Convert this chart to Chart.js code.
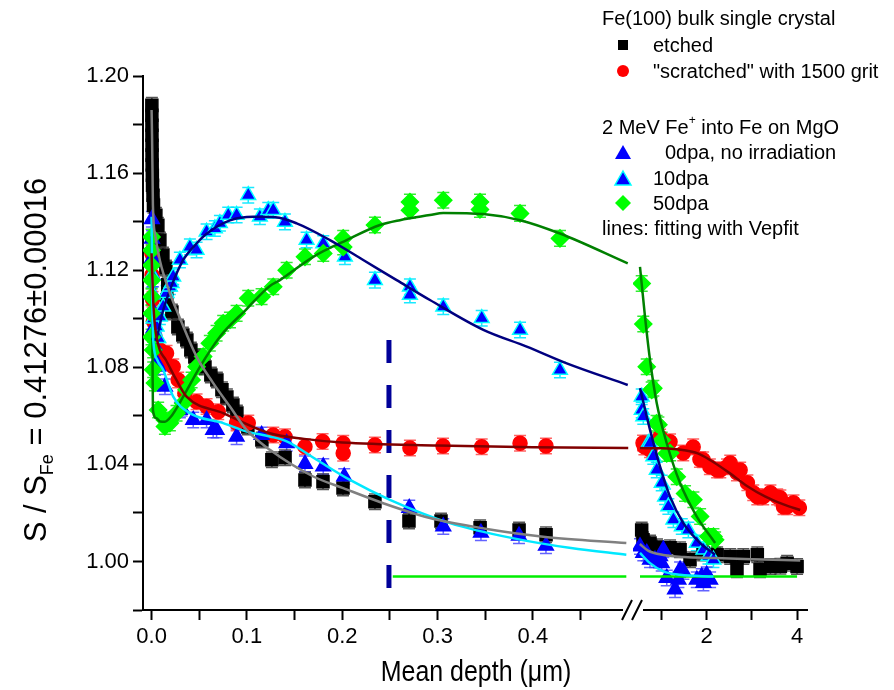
<!DOCTYPE html>
<html>
<head>
<meta charset="utf-8">
<script src="https://cdn.jsdelivr.net/npm/chart.js@4.4.0/dist/chart.umd.min.js"></script>
<style>
  html, body { margin: 0; padding: 0; background: #fff; }
  #wrap { width: 894px; height: 690px; }
</style>
</head>
<body>
<div id="wrap"><canvas id="chart" width="894" height="690"></canvas></div>
<script>
// ---- data (depth in um, S / S_Fe) ----
// left segment: 0 .. 0.5 um, right segment: 0.5 .. 4 um
const etchedX = [0.0003,0.0003,0.0004,0.0004,0.0005,0.0005,0.0006,0.0008,0.001,0.0015,0.002,0.0045,0.0066,0.0087,0.0119,0.015,0.017,0.016,0.0213,0.0276,0.0328,0.037,0.0412,0.0454,0.0507,0.056,0.0622,0.0685,0.0738,0.079,0.0853,0.0895,0.101,0.1157,0.1262,0.14,0.1609,0.1798,0.2008,0.2343,0.27,0.3036,0.3446,0.3855,0.4138];
const etchedY = [1.1879,1.1838,1.1797,1.1756,1.1715,1.1674,1.1633,1.1591,1.155,1.1509,1.1468,1.1426,1.1385,1.1324,1.1262,1.1209,1.114,1.1077,1.1028,1.0966,1.0933,1.0912,1.0871,1.0842,1.0822,1.0801,1.0768,1.0748,1.0707,1.0678,1.0645,1.0612,1.0554,1.05,1.0419,1.0427,1.0336,1.0328,1.0303,1.0246,1.0167,1.0167,1.0139,1.013,1.011];
const etchedRX = [0.56,0.59,0.745,0.9,1.188,1.41,1.63,1.92,2.23,2.52,2.67,2.81,3.12,3.18,3.41,3.63,3.78,4.0];
const etchedRY = [1.013,1.0089,1.0076,1.006,1.0056,1.0048,1.0007,1.0035,1.0028,1.002,0.9966,1.002,1.0028,0.9966,0.9979,0.998,0.9993,0.9979];

const scratchX = [0.0003,0.0005,0.001,0.002,0.004,0.009,0.014,0.0157,0.0227,0.0279,0.0349,0.0472,0.0577,0.0699,0.0892,0.1014,0.1276,0.1399,0.1609,0.1794,0.201,0.201,0.2343,0.271,0.3057,0.3463,0.3865,0.4137];
const scratchY = [1.127,1.118,1.108,1.099,1.092,1.087,1.082,1.0858,1.0802,1.0748,1.0693,1.0658,1.0638,1.0617,1.057,1.057,1.0521,1.0514,1.0473,1.0494,1.0487,1.0446,1.048,1.0467,1.0476,1.0473,1.0487,1.0476];
const scratchRX = [0.59,0.62,0.745,0.967,1.188,1.48,1.7,1.85,1.92,2.07,2.23,2.3,2.45,2.52,2.67,2.74,2.9,3.03,3.12,3.25,3.41,3.56,3.63,3.7,3.78,3.92,4.05];
const scratchRY = [1.0488,1.0472,1.046,1.0513,1.0493,1.0447,1.0472,1.042,1.0419,1.039,1.0377,1.0377,1.039,1.0406,1.0365,1.0377,1.0324,1.0283,1.0266,1.0266,1.0283,1.0266,1.0262,1.0225,1.0225,1.0242,1.0221];

const dpa0X = [0.0003,0.0005,0.0008,0.001,0.0013,0.0016,0.002,0.003,0.005,0.007,0.014,0.0297,0.0315,0.0437,0.0577,0.0646,0.0682,0.0892,0.1154,0.1417,0.1609,0.1801,0.2021,0.2703,0.306,0.3455,0.3854,0.4137];
const dpa0Y = [1.141,1.133,1.125,1.118,1.11,1.103,1.096,1.089,1.082,1.0802,1.072,1.0624,1.0631,1.0583,1.0583,1.0542,1.0542,1.0514,1.0521,1.0487,1.0402,1.0391,1.035,1.022,1.0144,1.0118,1.0106,1.0065];
const dpa0RX = [0.523,0.596,0.672,0.745,0.856,0.967,1.004,1.04,1.115,1.299,1.373,1.41,1.483,1.78,1.89,1.927,2.0,2.075];
const dpa0RY = [1.0062,1.0035,1.0035,1.0007,1.0007,1.0021,0.9993,1.0048,0.9932,0.9884,0.9925,0.9966,0.9959,0.9925,0.9938,0.9911,0.9945,0.9925];

const dpa10X = [0.0005,0.001,0.002,0.003,0.0052,0.007,0.0087,0.0122,0.0157,0.0192,0.021,0.0227,0.0297,0.0402,0.0472,0.0577,0.0664,0.0717,0.0804,0.0892,0.1014,0.1136,0.1224,0.1276,0.1399,0.1626,0.1801,0.2028,0.2343,0.271,0.271,0.306,0.3463,0.3865,0.4284];
const dpa10Y = [1.118,1.11,1.1,1.093,1.0967,1.092,1.1008,1.1049,1.1105,1.1132,1.1146,1.1173,1.1242,1.1296,1.1283,1.1358,1.1372,1.1393,1.1427,1.1427,1.1509,1.142,1.1447,1.1447,1.1399,1.1324,1.131,1.1255,1.1159,1.1132,1.1098,1.1049,1.1002,1.0954,1.0789];
const dpa10RX = [0.561,0.561,0.596,0.707,0.745,0.818,0.894,1.004,1.078,1.151,1.262,1.448,1.594,1.78,1.927,2.038,2.149];
const dpa10RY = [1.0679,1.0624,1.0597,1.0487,1.0487,1.0432,1.0377,1.0323,1.0267,1.0226,1.0172,1.0144,1.013,1.0076,1.0048,1.0021,1.0007];

const dpa50X = [0,0,0,0,0,0,0,0.0017,0.0017,0.0035,0.0069,0.014,0.014,0.0192,0.0262,0.0332,0.0367,0.042,0.0472,0.0541,0.0611,0.0682,0.0751,0.0822,0.0892,0.1014,0.1154,0.1276,0.1417,0.1609,0.1801,0.201,0.201,0.2343,0.271,0.271,0.306,0.3445,0.3445,0.3865,0.4284];
const dpa50Y = [1.1337,1.1282,1.122,1.1159,1.109,1.1022,1.0925,1.0871,1.079,1.0735,1.0624,1.0583,1.0556,1.057,1.0611,1.0652,1.0707,1.0748,1.0802,1.0844,1.0899,1.094,1.0981,1.0995,1.1022,1.1084,1.1091,1.1132,1.12,1.1255,1.1269,1.1331,1.1296,1.1386,1.1481,1.1447,1.1488,1.1481,1.145,1.1434,1.1331];
const dpa50RX = [0.561,0.596,0.672,0.782,0.818,0.89,0.93,1.004,1.115,1.19,1.337,1.52,1.705,1.854,2.038,2.149,2.186];
const dpa50RY = [1.1145,1.0978,1.0802,1.0707,1.0714,1.0569,1.0563,1.05,1.0445,1.0447,1.0349,1.028,1.0254,1.0185,1.0103,1.0103,1.0089];

// Vepfit fitting lines
const fitEtchedX = [0,0.0005,0.001,0.0014,0.004,0.0087,0.0192,0.03,0.0472,0.0638,0.0822,0.0997,0.1241,0.1696,0.201,0.243,0.292,0.35,0.413,0.498];
const fitEtchedY = [1.186,1.175,1.16,1.1468,1.134,1.124,1.1106,1.1,1.0844,1.074,1.0638,1.0542,1.046,1.035,1.0302,1.024,1.0179,1.0135,1.0101,1.0076];
const fitEtchedRX = [0.52,0.7,1.04,1.5,2.15,3.0,4.07];
const fitEtchedRY = [1.0072,1.0045,1.0027,1.0018,1.0014,1.0009,1.0004];

const fitScratchX = [0,0.002,0.005,0.0087,0.015,0.025,0.0367,0.0751,0.1241,0.16,0.2,0.3,0.4,0.5];
const fitScratchY = [1.127,1.105,1.093,1.0871,1.083,1.0755,1.0679,1.0611,1.0528,1.0505,1.049,1.0478,1.0471,1.0467];
const fitScratchRX = [0.52,1.0,1.5,1.8,2.1,2.5,2.9,3.3,3.7,4.07];
const fitScratchRY = [1.0467,1.0466,1.0458,1.0445,1.0415,1.0365,1.031,1.0267,1.0235,1.0212];

const fit0X = [0,0.0005,0.001,0.002,0.006,0.0122,0.0227,0.0402,0.0751,0.1,0.124,0.1417,0.1731,0.2081,0.25,0.313,0.38,0.44,0.498];
const fit0Y = [1.142,1.12,1.10,1.09,1.083,1.0789,1.0679,1.0611,1.057,1.0535,1.0515,1.0495,1.0419,1.0336,1.0254,1.0158,1.0095,1.0055,1.0028];
const fit0RX = [0.523,0.745,1.04,1.41,2.15];
const fit0RY = [1.0035,0.9993,0.9959,0.9945,0.9938];

const fit10X = [0,0.0036,0.0122,0.0192,0.0332,0.0472,0.0577,0.0822,0.1066,0.13,0.1522,0.1871,0.222,0.2571,0.292,0.348,0.3935,0.4355,0.4995];
const fit10Y = [1.092,1.0913,1.1036,1.1118,1.1242,1.131,1.135,1.1405,1.142,1.1418,1.1393,1.1324,1.1242,1.1159,1.1077,1.0954,1.0885,1.0816,1.0727];
const fit10RX = [0.523,0.745,0.967,1.188,1.483,1.854,2.186];
const fit10RY = [1.0714,1.0542,1.0391,1.0267,1.0158,1.0076,1.0028];

const fit50X = [0,0.0005,0.001,0.0014,0.005,0.009,0.014,0.02,0.0332,0.0507,0.0717,0.0997,0.1241,0.1346,0.1696,0.2046,0.2396,0.2605,0.292,0.306,0.348,0.3865,0.4284,0.4995];
const fit50Y = [1.134,1.11,1.085,1.0624,1.059,1.0577,1.0576,1.0595,1.0679,1.0802,1.0926,1.104,1.1135,1.1159,1.1255,1.1324,1.1386,1.1406,1.1427,1.1436,1.1431,1.1406,1.1351,1.1228];
const fit50RX = [0.523,0.634,0.745,0.894,1.115,1.41,1.78,2.186];
const fit50RY = [1.1214,1.1008,1.083,1.0652,1.0487,1.0323,1.0185,1.0076];

// marker lines: bulk reference level and dashed depth mark
const refLevel = 0.9938;
const refLeftX = [0.253, 0.498];
const refRightX = [0.523, 4.0];
const markDepth = 0.249;
const markRange = [1.0912, 0.9871];

const ERR = 0.0032;

const pts = (xs, ys) => xs.map((x, i) => ({ x, y: ys[i] }));
const SANS = "'Liberation Sans', Arial, sans-serif";

function marks(data, axis, style, radius, fill, stroke, errColor, order) {
    return {
        data, xAxisID: axis, pointStyle: style, pointRadius: radius, pointHoverRadius: radius,
        backgroundColor: fill, borderColor: stroke, borderWidth: 1.5, showLine: false,
        errColor, order
    };
}
function fit(data, axis, color, width = 2.5, dash = []) {
    return {
        data, xAxisID: axis, showLine: true, pointRadius: 0, borderColor: color, borderWidth: width,
        borderDash: dash, cubicInterpolationMode: 'monotone', fill: false, order: 0
    };
}

const datasets = [
    fit(pts(fitEtchedX, fitEtchedY), 'x', '#808080'),
    fit(pts(fitEtchedRX, fitEtchedRY), 'x2', '#808080'),
    fit(pts(fitScratchX, fitScratchY), 'x', '#800000'),
    fit(pts(fitScratchRX, fitScratchRY), 'x2', '#800000'),
    fit(pts(fit0X, fit0Y), 'x', '#00e8ff'),
    fit(pts(fit0RX, fit0RY), 'x2', '#00e8ff'),
    fit(pts(fit10X, fit10Y), 'x', '#000080'),
    fit(pts(fit10RX, fit10RY), 'x2', '#000080'),
    fit(pts(fit50X, fit50Y), 'x', '#008000'),
    fit(pts(fit50RX, fit50RY), 'x2', '#008000'),
    fit(refLeftX.map(x => ({ x, y: refLevel })), 'x', '#00ee00'),
    fit(refRightX.map(x => ({ x, y: refLevel })), 'x2', '#00ee00'),
    Object.assign(fit(markRange.map(y => ({ x: markDepth, y })), 'x', '#000099', 5, [23, 22]), { cubicInterpolationMode: 'default', tension: 0 }),
    marks(pts(dpa50X, dpa50Y), 'x', 'rectRot', 8.5, '#00ff00', '#00ff00', 'rgba(0,230,0,0.8)', 1),
    marks(pts(dpa50RX, dpa50RY), 'x2', 'rectRot', 8.5, '#00ff00', '#00ff00', 'rgba(0,230,0,0.8)', 1),
    marks(pts(dpa10X, dpa10Y), 'x', 'triangle', 8.5, '#0000ff', '#00ffff', 'rgba(0,230,255,0.9)', 2),
    marks(pts(dpa10RX, dpa10RY), 'x2', 'triangle', 8.5, '#0000ff', '#00ffff', 'rgba(0,230,255,0.9)', 2),
    marks(pts(dpa0X, dpa0Y), 'x', 'triangle', 8.5, '#0000ff', '#0000ff', 'rgba(60,60,255,0.8)', 3),
    marks(pts(dpa0RX, dpa0RY), 'x2', 'triangle', 8.5, '#0000ff', '#0000ff', 'rgba(60,60,255,0.8)', 3),
    marks(pts(scratchX, scratchY), 'x', 'circle', 7, '#ff0000', '#ff0000', 'rgba(255,60,60,0.8)', 4),
    marks(pts(scratchRX, scratchRY), 'x2', 'circle', 7, '#ff0000', '#ff0000', 'rgba(255,60,60,0.8)', 4),
    marks(pts(etchedX, etchedY), 'x', 'rect', 8.5, '#000000', '#000000', 'rgba(40,40,40,0.8)', 5),
    marks(pts(etchedRX, etchedRY), 'x2', 'rect', 8.5, '#000000', '#000000', 'rgba(40,40,40,0.8)', 5),
];

// small vertical error bars under every marker
const errorBars = {
    id: 'errorBars',
    beforeDatasetsDraw(chart) {
        const ctx = chart.ctx, y = chart.scales.y;
        ctx.save();
        ctx.lineWidth = 1.5;
        chart.data.datasets.forEach((ds, i) => {
            if (!ds.errColor) return;
            const meta = chart.getDatasetMeta(i);
            ctx.strokeStyle = ds.errColor;
            meta.data.forEach((el, j) => {
                const v = ds.data[j].y;
                const top = y.getPixelForValue(v + ERR), bot = y.getPixelForValue(v - ERR);
                ctx.beginPath();
                ctx.moveTo(el.x, top); ctx.lineTo(el.x, bot);
                ctx.moveTo(el.x - 6, top); ctx.lineTo(el.x + 6, top);
                ctx.moveTo(el.x - 6, bot); ctx.lineTo(el.x + 6, bot);
                ctx.stroke();
            });
        });
        ctx.restore();
    }
};

function legendMark(ctx, kind, x, y) {
    ctx.save();
    ctx.beginPath();
    if (kind === 'square') {
        ctx.fillStyle = '#000'; ctx.fillRect(x - 5, y - 5, 10, 10);
    } else if (kind === 'circle') {
        ctx.fillStyle = '#ff0000'; ctx.arc(x, y, 6, 0, Math.PI * 2); ctx.fill();
    } else if (kind === 'diamond') {
        ctx.fillStyle = '#00ff00';
        ctx.moveTo(x, y - 8); ctx.lineTo(x + 8, y); ctx.lineTo(x, y + 8); ctx.lineTo(x - 8, y); ctx.closePath(); ctx.fill();
    } else {
        ctx.fillStyle = '#0000ff';
        ctx.moveTo(x, y - 8); ctx.lineTo(x + 8, y + 6); ctx.lineTo(x - 8, y + 6); ctx.closePath(); ctx.fill();
        if (kind === 'tri2') { ctx.strokeStyle = '#00ffff'; ctx.lineWidth = 1.5; ctx.stroke(); }
    }
    ctx.restore();
}

const decorations = {
    id: 'decorations',
    afterDraw(chart) {
        const ctx = chart.ctx;
        const area = chart.chartArea;
        ctx.save();

        // axis break on the x axis
        const bx = 633, by = area.bottom;
        ctx.fillStyle = '#fff';
        ctx.fillRect(bx - 10, by - 4, 20, 8);
        ctx.strokeStyle = '#000';
        ctx.lineWidth = 2;
        ctx.beginPath();
        ctx.moveTo(bx - 11, by + 10); ctx.lineTo(bx - 1, by - 10);
        ctx.moveTo(bx - 1, by + 10); ctx.lineTo(bx + 9, by - 10);
        ctx.stroke();

        // axis titles (condensed like the original)
        ctx.fillStyle = '#000';
        ctx.textBaseline = 'alphabetic';
        ctx.save();
        ctx.translate(476, 681);
        ctx.scale(0.86, 1);
        ctx.font = `29px ${SANS}`;
        ctx.textAlign = 'center';
        ctx.fillText('Mean depth (\u03bcm)', 0, 0);
        ctx.restore();

        ctx.save();
        ctx.translate(46, 360);
        ctx.rotate(-Math.PI / 2);
        ctx.textAlign = 'left';
        const big = `31px ${SANS}`, small = `18px ${SANS}`;
        const parts = [['S / S', big, 0], ['Fe', small, 7], [' = 0.41276\u00b10.00016', big, 0]];
        let total = 0;
        parts.forEach(p => { ctx.font = p[1]; total += ctx.measureText(p[0]).width; });
        let px = -total / 2;
        parts.forEach(p => { ctx.font = p[1]; ctx.fillText(p[0], px, p[2]); px += ctx.measureText(p[0]).width; });
        ctx.restore();

        // legend block
        ctx.fillStyle = '#000';
        ctx.font = `20px ${SANS}`;
        ctx.textAlign = 'left';
        ctx.fillText('Fe(100) bulk single crystal', 602, 25);
        legendMark(ctx, 'square', 623, 45);
        ctx.fillText('etched', 653, 52);
        legendMark(ctx, 'circle', 623, 71);
        ctx.fillText('"scratched" with 1500 grit', 653, 78);
        let lx = 602;
        ctx.fillText('2 MeV Fe', lx, 134);
        lx += ctx.measureText('2 MeV Fe').width;
        ctx.font = `12px ${SANS}`;
        ctx.fillText('+', lx, 124);
        lx += ctx.measureText('+').width;
        ctx.font = `20px ${SANS}`;
        ctx.fillText(' into Fe on MgO', lx, 134);
        legendMark(ctx, 'tri', 623, 153);
        ctx.fillText('0dpa, no irradiation', 665, 159);
        legendMark(ctx, 'tri2', 623, 179);
        ctx.fillText('10dpa', 653, 185);
        legendMark(ctx, 'diamond', 623, 203);
        ctx.fillText('50dpa', 653, 210);
        ctx.fillText('lines: fitting with Vepfit', 602, 235);

        ctx.restore();
    }
};

const axisStyle = {
    border: { display: true, color: '#000', width: 2 },
    grid: { drawOnChartArea: false, drawTicks: true, tickLength: 10, tickColor: '#000', tickWidth: 2 },
};

new Chart(document.getElementById('chart'), {
    type: 'scatter',
    data: { datasets },
    options: {
        responsive: false,
        animation: false,
        events: [],
        layout: { padding: { left: 0, right: 87, top: 76, bottom: 0 } },
        plugins: { legend: { display: false }, tooltip: { enabled: false } },
        scales: {
            x: {
                ...axisStyle, type: 'linear', position: 'bottom', stack: 'depth', stackWeight: 490,
                min: -0.009, max: 0.505,
                afterFit: s => { s.height = 80; },
                afterBuildTicks: s => { s.ticks = s.ticks.filter(t => t.value >= 0 && t.value < 0.47); },
                ticks: {
                    stepSize: 0.05, includeBounds: false, padding: 4, color: '#000', maxRotation: 0, autoSkip: false,
                    font: { family: SANS, size: 22 },
                    callback: v => Math.round(v * 100) % 10 === 0 ? v.toFixed(1) : ''
                }
            },
            x2: {
                ...axisStyle, type: 'linear', position: 'bottom', stack: 'depth', stackWeight: 174,
                min: 0.368, max: 4.22,
                afterFit: s => { s.height = 80; },
                afterBuildTicks: s => { s.ticks = s.ticks.filter(t => t.value >= 1 && t.value <= 4); },
                ticks: {
                    stepSize: 1, includeBounds: false, padding: 4, color: '#000', maxRotation: 0, autoSkip: false,
                    font: { family: SANS, size: 22 },
                    callback: v => (v === 2 || v === 4) ? String(v) : ''
                }
            },
            y: {
                ...axisStyle, type: 'linear', position: 'left',
                min: 0.98, max: 1.2,
                afterFit: s => { s.width = 143; },
                ticks: {
                    stepSize: 0.02, padding: 4, color: '#000', autoSkip: false,
                    font: { family: SANS, size: 22 },
                    callback: v => Math.round(v * 100) % 4 === 0 ? v.toFixed(2) : ''
                }
            }
        }
    },
    plugins: [errorBars, decorations]
});
</script>
</body>
</html>
